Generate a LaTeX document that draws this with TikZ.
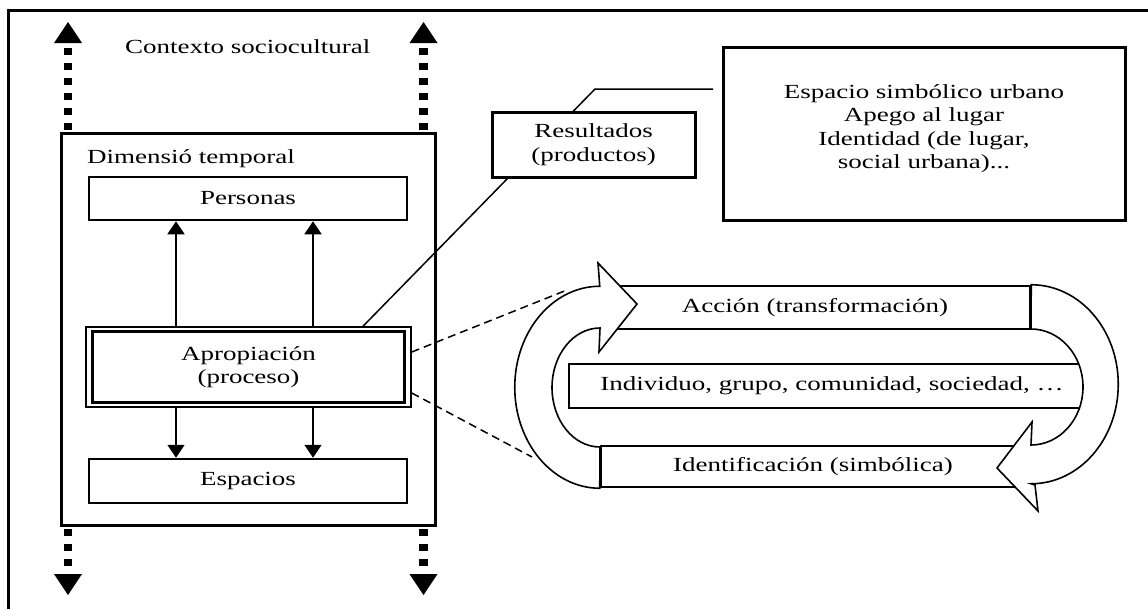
\documentclass[tikz,border=0pt]{standalone}
\usepackage{fontspec}
\setmainfont{Liberation Serif}[FakeStretch=1.35]
\usetikzlibrary{arrows.meta}
\begin{document}
\begin{tikzpicture}[x=1pt,y=-1pt,
  txt/.style={font=\fontsize{20}{23.5}\selectfont, inner sep=0pt, align=center},
  boxn/.style={draw, line width=2.5pt, fill=white, txt},
  thinarrow/.style={line width=1.5pt, -{Triangle[width=17pt,length=13pt]}},
  dotsq/.style={line width=8.5pt, dash pattern=on 7pt off 8pt},
  headtri/.style={fill=black},
  cyc/.style={draw, line width=1.6pt, fill=white, line join=miter},
  zoomline/.style={line width=1.5pt, dash pattern=on 8pt off 5pt},
]
\useasboundingbox (0,0) rectangle (1148,608);
\fill[white] (0,0) rectangle (1148,608);
% outer frame (right and bottom edges lie outside the picture)
\draw[line width=3pt] (8,615) -- (8,10) -- (1155,10);

% context label
\node[txt, anchor=base west] (ctx) at (125,53) {Contexto sociocultural};

% temporal dimension box
\node[draw, line width=3pt, minimum width=374pt, minimum height=392pt] (dim) at (248,329) {};
\node[txt, anchor=base west] (dimt) at (87,163) {Dimensió temporal};

\node[boxn, minimum width=318pt, minimum height=43pt] (pers) at (248,198.5) {Personas};
\node[boxn, line width=1.5pt, minimum width=325pt, minimum height=80pt] (apro) at (248.5,367) {Apropiación\\(proceso)};
\draw[line width=2.6pt] ([shift={(7,5)}]apro.north west) rectangle ([shift={(-7,-5)}]apro.south east);
\node[boxn, minimum width=318pt, minimum height=44pt] (esp) at (248,481) {Espacios};

\coordinate (xa) at (176,0);
\coordinate (xb) at (313,0);
\draw[thinarrow] (apro.north -| xa) -- (pers.south -| xa);
\draw[thinarrow] (apro.north -| xb) -- (pers.south -| xb);
\draw[thinarrow] (apro.south -| xa) -- (esp.north -| xa);
\draw[thinarrow] (apro.south -| xb) -- (esp.north -| xb);

% thick dotted arrows
\draw[dotsq] (68,130) -- (68,48);
\fill[headtri] (54,43) -- (82,43) -- (68,22) -- cycle;
\draw[dotsq] (423.5,130) -- (423.5,48);
\fill[headtri] (409.5,43) -- (437.5,43) -- (423.5,22) -- cycle;
\draw[dotsq] (68,529) -- (68,567);
\fill[headtri] (54,574) -- (82,574) -- (68,595) -- cycle;
\draw[dotsq] (423.5,529) -- (423.5,567);
\fill[headtri] (409.5,574) -- (437.5,574) -- (423.5,595) -- cycle;

% results
\coordinate (lr) at (363,0);
\coordinate (rbend) at (595,89);
\coordinate (rend) at (713,89);
\draw[line width=1.5pt] (apro.north -| lr) -- (rbend) -- (rend);
\node[boxn, line width=3pt, minimum width=203pt, minimum height=65pt] (res) at (593.5,144.5) {Resultados\\(productos)};
\node[draw, line width=3pt, minimum width=402pt, minimum height=173pt] (big) at (924,133.5) {};
\node[txt] (bigt) at ([yshift=5pt]big.center) {Espacio simbólico urbano\\Apego al lugar\\Identidad (de lugar,\\social urbana)...};

% cycle boxes
\node[boxn, minimum width=430pt, minimum height=43pt] (acc) at (815,307.5) {Acción (transformación)};
\node[boxn, minimum width=526pt, minimum height=44pt] (ind) at (832,386) {Individuo, grupo, comunidad, sociedad, …};
\node[boxn, minimum width=424pt, minimum height=41pt] (ide) at (813,466.5) {Identificación (simbólica)};

% zoom lines
\coordinate (z1) at (567,290);
\coordinate (z2) at (532,457);
\draw[zoomline] ([yshift=15pt]apro.east) -- (z1);
\draw[zoomline] ([yshift=-26pt]apro.east) -- (z2);

% left curved arrow
\draw[cyc] (ide.south west) arc[start angle=90, end angle=270, x radius=85, y radius=101]
  -- (598,263) -- (637,304) -- (599,352) -- (600,328)
  arc[start angle=270, end angle=90, x radius=48, y radius=59.5] -- cycle;

% right curved arrow
\draw[cyc] (acc.north east) arc[start angle=-90, end angle=90, x radius=87, y radius=99.5]
  -- (1035,485) -- (1038,511) -- (997,468) -- (1032,422) -- (1031,445)
  arc[start angle=90, end angle=-90, x radius=52, y radius=58] -- cycle;
\end{tikzpicture}
\end{document}
